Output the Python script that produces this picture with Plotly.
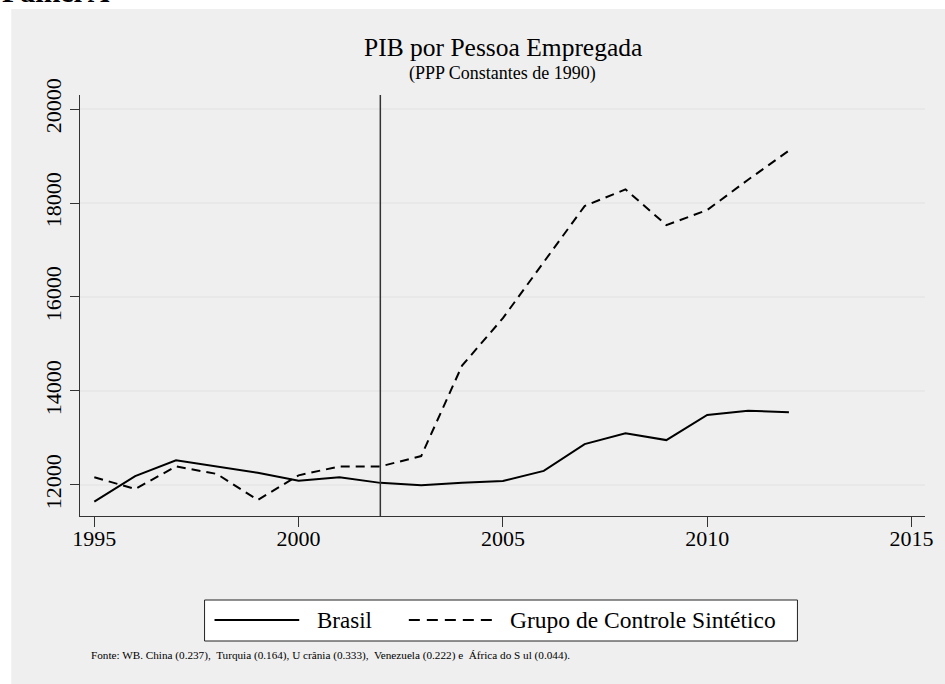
import plotly.graph_objects as go

# --- data ---
years = list(range(1995, 2013))
brasil = [11645, 12190, 12525, 12395, 12260, 12090, 12165, 12045, 11995,
          12050, 12085, 12300, 12870, 13100, 12955, 13490, 13580, 13545]
sintetico = [12165, 11915, 12395, 12235, 11680, 12205, 12395, 12395, 12615,
             14540, 15550, 16750, 17935, 18290, 17530, 17850, 18495, 19115]
treat_year = 2002
x_ticks = [1995, 2000, 2005, 2010, 2015]
y_ticks = [12000, 14000, 16000, 18000, 20000]
series_names = ["Brasil", "Grupo de Controle Sintético"]
title = "PIB por Pessoa Empregada"
subtitle = "(PPP Constantes de 1990)"
note = ("Fonte: WB. China (0.237),  Turquia (0.164), U crânia (0.333),  "
        "Venezuela (0.222) e  África do S ul (0.044).")

SERIF = "Liberation Serif, Times New Roman, serif"
W, H = 945, 684
L, R, T, B = 80, 17, 95, 168
pw, ph = W - L - R, H - T - B


# pixel -> paper helpers (for decorations only)
def px_x(p):
    return (p - L) / pw


def px_y(p):
    return (H - B - p) / ph


fig = go.Figure()

fig.add_trace(go.Scatter(x=years, y=brasil, mode="lines", name=series_names[0],
                         line=dict(color="black", width=2)))
fig.add_trace(go.Scatter(x=years, y=sintetico, mode="lines", name=series_names[1],
                         line=dict(color="black", width=2, dash="9px,6px")))

shapes = [
    # gray panel behind everything
    dict(type="rect", xref="paper", yref="paper", layer="below",
         x0=px_x(11), x1=px_x(W + 5), y0=px_y(H + 5), y1=px_y(9),
         fillcolor="#efefef", line=dict(width=0)),
    # treatment year
    dict(type="line", xref="x", yref="paper", x0=treat_year, x1=treat_year,
         y0=0, y1=1, line=dict(color="#333333", width=1.5)),
    # legend box
    dict(type="rect", xref="paper", yref="paper",
         x0=px_x(205), x1=px_x(800), y0=px_y(641), y1=px_y(600),
         fillcolor="white", line=dict(color="#222222", width=1)),
    dict(type="line", xref="paper", yref="paper",
         x0=px_x(215), x1=px_x(300), y0=px_y(620), y1=px_y(620),
         line=dict(color="black", width=2)),
    dict(type="line", xref="paper", yref="paper",
         x0=px_x(410), x1=px_x(498), y0=px_y(620), y1=px_y(620),
         line=dict(color="black", width=2, dash="11px,7px")),
]

annotations = [
    dict(text="<b>Painel A</b>", xref="paper", yref="paper", x=px_x(0), y=px_y(10),
         xanchor="left", yanchor="bottom", showarrow=False,
         font=dict(family=SERIF, size=30, color="black")),
    dict(text=title, xref="paper", yref="paper", x=0.5, y=px_y(47),
         xanchor="center", yanchor="middle", showarrow=False,
         font=dict(family=SERIF, size=25.5, color="black")),
    dict(text=subtitle, xref="paper", yref="paper", x=0.5, y=px_y(73),
         xanchor="center", yanchor="middle", showarrow=False,
         font=dict(family=SERIF, size=18, color="black")),
    dict(text=series_names[0], xref="paper", yref="paper", x=px_x(316), y=px_y(620),
         xanchor="left", yanchor="middle", showarrow=False,
         font=dict(family=SERIF, size=23, color="black")),
    dict(text=series_names[1], xref="paper", yref="paper", x=px_x(510), y=px_y(620),
         xanchor="left", yanchor="middle", showarrow=False,
         font=dict(family=SERIF, size=23.5, color="black")),
    dict(text=note, xref="paper", yref="paper", x=px_x(89), y=px_y(655),
         xanchor="left", yanchor="middle", showarrow=False,
         font=dict(family=SERIF, size=11.2, color="black")),
]

fig.update_layout(
    width=W, height=H,
    margin=dict(l=L, r=R, t=T, b=B, pad=0),
    paper_bgcolor="white",
    plot_bgcolor="white",
    showlegend=False,
    font=dict(family=SERIF, color="black"),
    shapes=shapes,
    annotations=annotations,
)

fig.update_xaxes(
    range=[1994.65, 2015.33], tickvals=x_ticks, tickformat="d",
    ticks="outside", ticklen=10, ticklabelstandoff=-7,
    tickcolor="#333333", showline=True, linecolor="#333333", linewidth=1,
    showgrid=False, zeroline=False, tickfont=dict(family=SERIF, size=22),
)
fig.update_yaxes(
    range=[11340, 20298], tickvals=y_ticks, tickformat="d",
    ticks="outside", ticklen=9,
    tickcolor="#333333", showline=True, linecolor="#333333", linewidth=1,
    showgrid=True, gridcolor="#e8e8e8", gridwidth=1.5, zeroline=False,
    tickangle=-90, tickfont=dict(family=SERIF, size=22),
)

# drop the default page margin so the figure sits at the window's corner
fig.write_html(
    "out.html",
    config={"displayModeBar": False},
    post_script="document.body.style.margin='0';document.body.style.overflow='hidden';",
)
